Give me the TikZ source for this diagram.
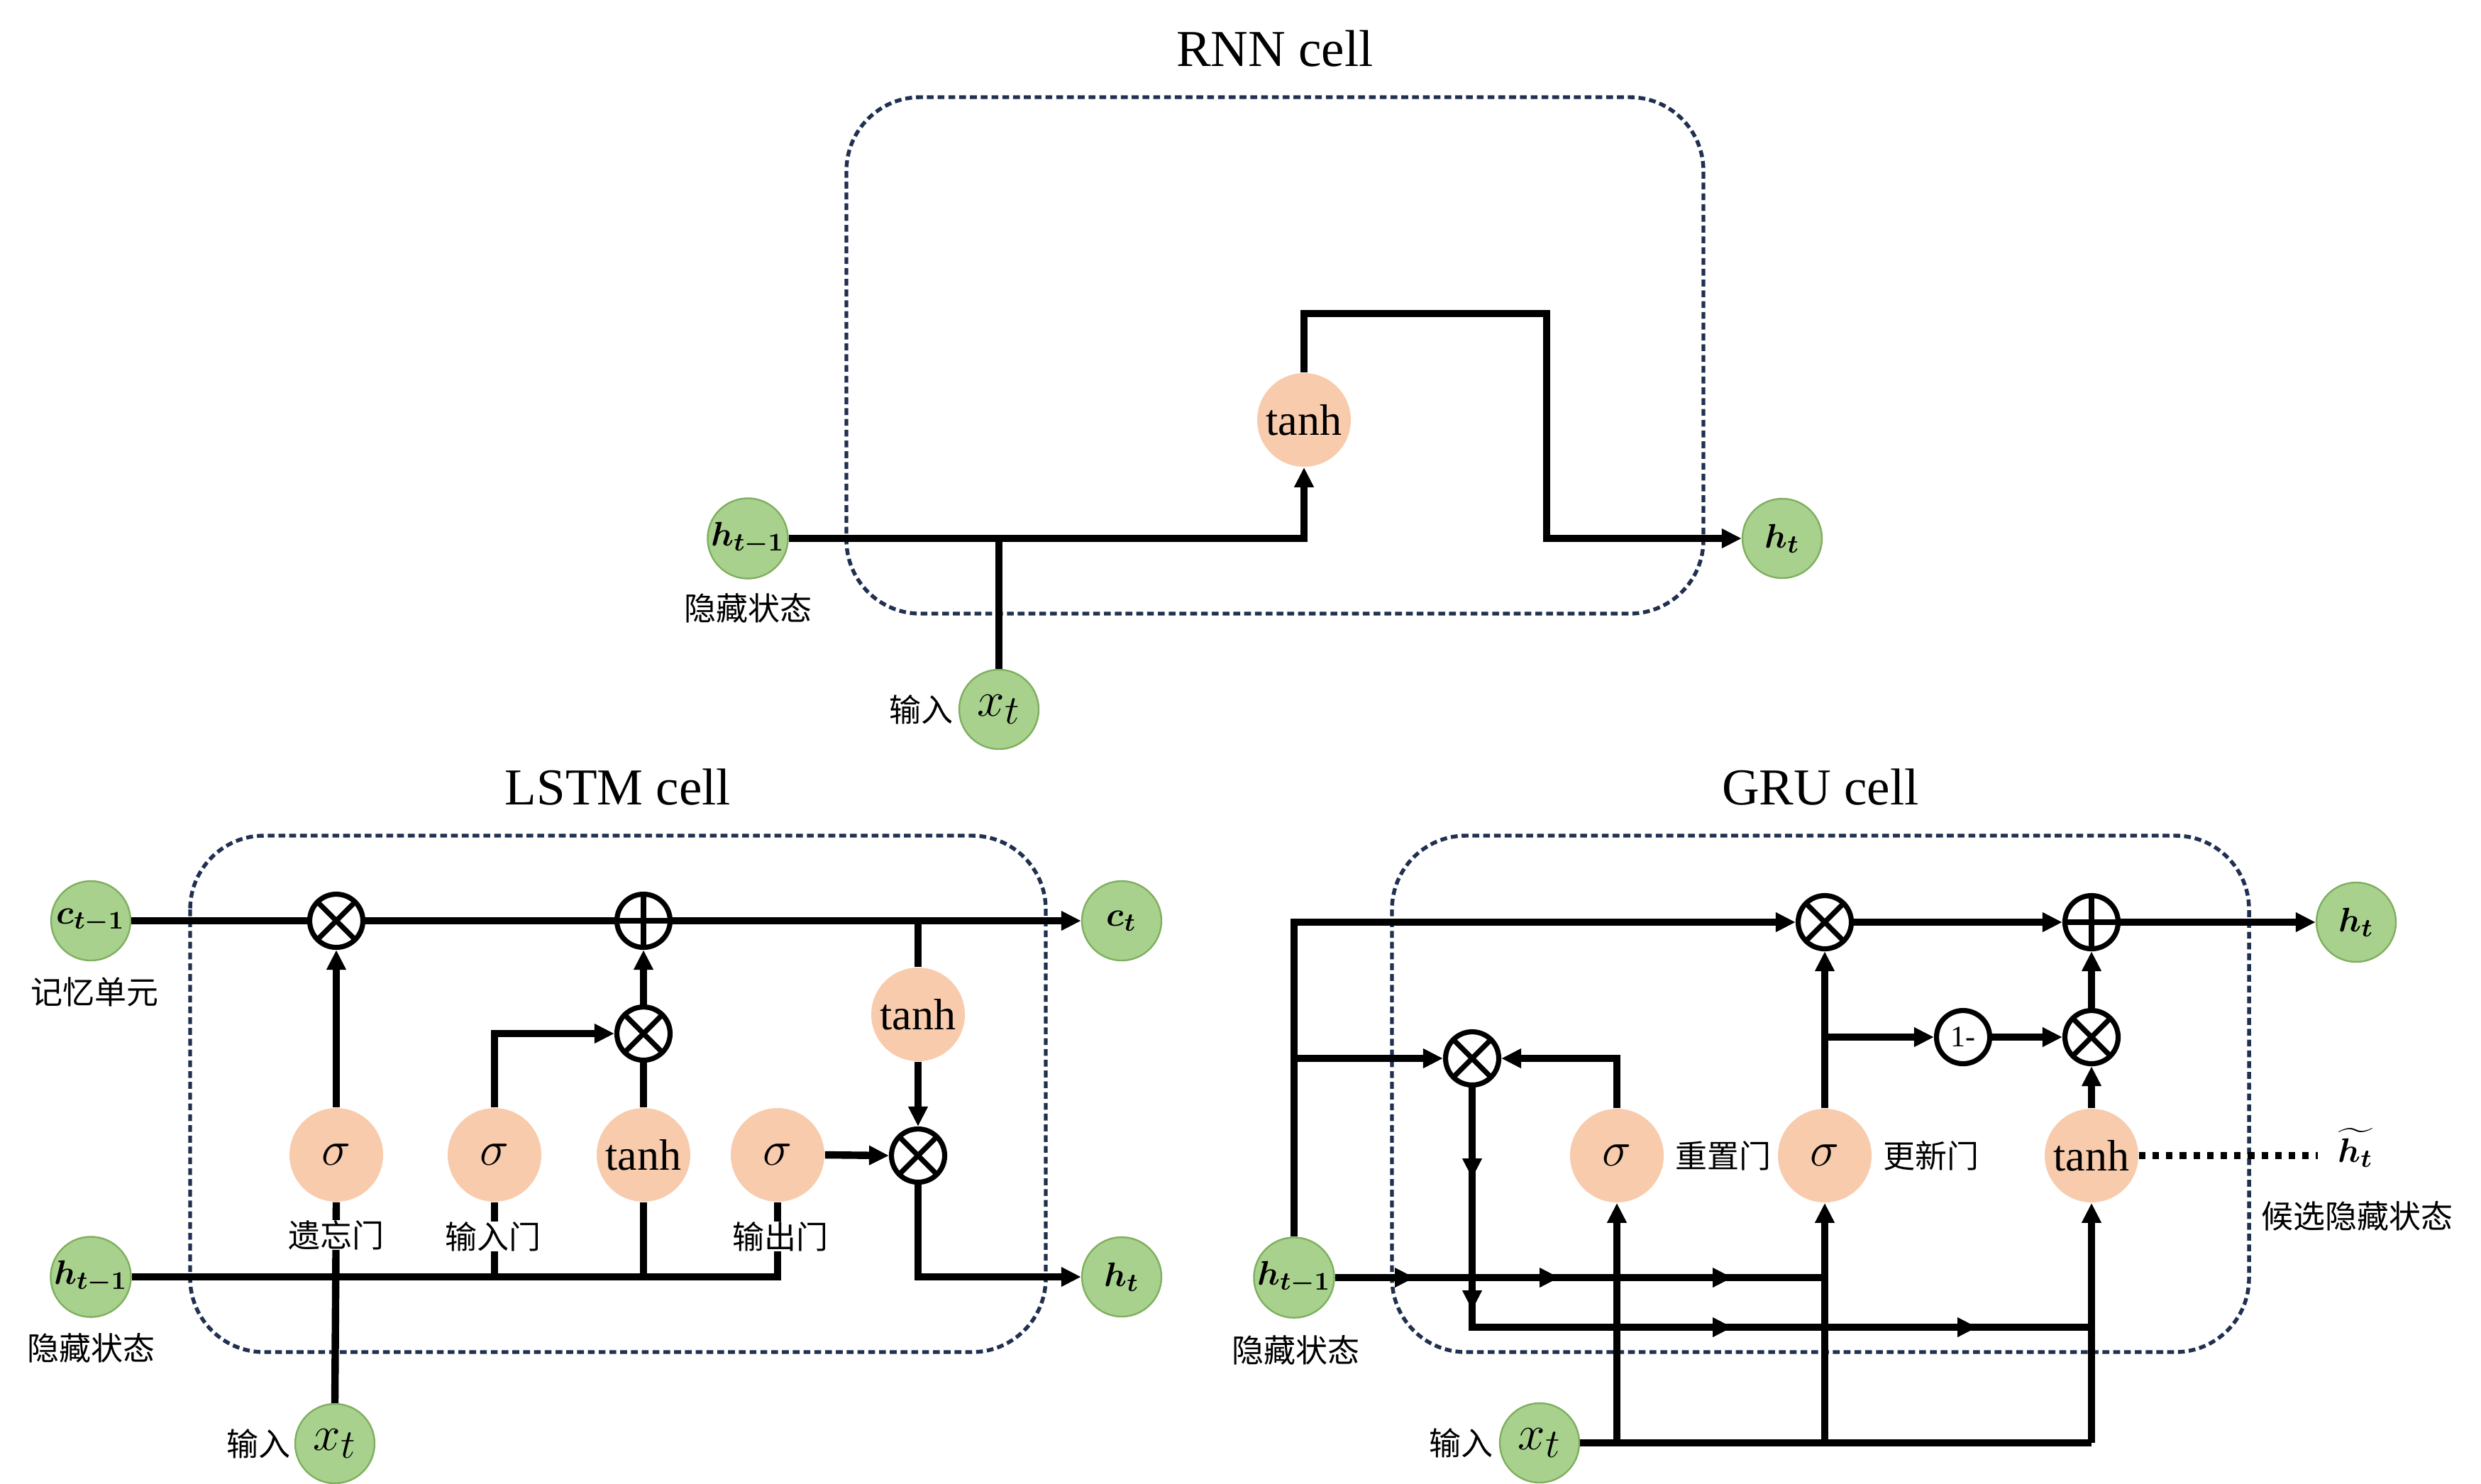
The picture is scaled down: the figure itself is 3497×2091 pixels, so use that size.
\documentclass[tikz,border=0pt]{standalone}
\usepackage{fontspec}
\usepackage{amsmath}
\setmainfont{Liberation Serif}
\newfontfamily\cjk{Noto Sans CJK SC}
\usetikzlibrary{arrows.meta}
\definecolor{gfill}{HTML}{A9D18E}
\definecolor{gline}{HTML}{7FAF5F}
\definecolor{pfill}{HTML}{F8CBAD}
\definecolor{boxc}{HTML}{203050}
\tikzset{
  conn/.style={line width=2.6pt, draw=black},
  arr/.style={conn, -{Triangle[length=7pt,width=6.5pt]}},
  io/.style={circle, fill=gfill, draw=gline, line width=0.6pt, minimum size=28pt, inner sep=0pt, font=\fontsize{13pt}{14pt}\selectfont},
  xin/.style={io, font=\fontsize{19pt}{20pt}\selectfont},
  act/.style={circle, fill=pfill, minimum size=33pt, inner sep=0pt, font=\fontsize{15.5pt}{16pt}\selectfont},
  sig/.style={act, font=\fontsize{19pt}{20pt}\selectfont},
  opbase/.style={circle, draw=black, fill=white, line width=1.8pt, minimum size=18.75pt, inner sep=0pt},
  opx/.style={opbase, path picture={\draw[line width=1.8pt] (path picture bounding box.north west) -- (path picture bounding box.south east) (path picture bounding box.north east) -- (path picture bounding box.south west);}},
  opp/.style={opbase, path picture={\draw[line width=1.8pt] (path picture bounding box.north) -- (path picture bounding box.south) (path picture bounding box.west) -- (path picture bounding box.east);}},
  onem/.style={opbase, font=\fontsize{10.5pt}{11pt}\selectfont},
  cellbox/.style={draw=boxc, line width=1.35pt, dash pattern=on 2.4pt off 1.4pt, rounded corners=26pt},
  celltitle/.style={font=\fontsize{18.25pt}{20pt}\selectfont, anchor=base, inner sep=0pt},
  lab/.style={font=\cjk\fontsize{11.25pt}{12pt}\selectfont, inner sep=0.5pt},
  labw/.style={lab, fill=white, inner sep=0pt},
  dotline/.style={line width=2.3pt, dash pattern=on 2.3pt off 2.5pt},
  txt/.style={inner sep=0pt, font=\fontsize{13pt}{14pt}\selectfont},
}
\begin{document}
\begin{tikzpicture}[x=0.25pt,y=-0.25pt]
\useasboundingbox (0,0) rectangle (3497,2091);

% ================= RNN =================
\node[celltitle] (rtitle) at (1797,93) {RNN cell};
\draw[cellbox] (1193,137) rectangle (2401,865);
\node[io] (rh) at (1054,759) {$\boldsymbol{h_{t-1}}$};
\node[lab] (rhl) at (1054,857) {隐藏状态};
\node[xin] (rx) at (1408,1000) {$x_t$};
\node[lab] (rxl) at (1298,1000) {输入};
\node[act] (rtanh) at (1838,592) {tanh};
\node[io] (rht) at (2512,759) {$\boldsymbol{h_t}$};
\coordinate (rj) at (1408,759);
\coordinate (rc1) at (1838,442);
\coordinate (rc2) at (2180,442);
\draw[arr] (rh.east) -| (rtanh.south);
\draw[conn] (rx.north) -- (rj);
\draw[arr] (rtanh.north) -- (rc1) -- (rc2) |- (rht.west);

% ================= LSTM =================
\node[celltitle] (ltitle) at (871,1134) {LSTM cell};
\draw[cellbox] (268,1178) rectangle (1474,1906);
\node[io] (lc0) at (128,1298) {$\boldsymbol{c_{t-1}}$};
\node[lab] (lc0l) at (133,1398) {记忆单元};
\node[io] (lh0) at (128,1800) {$\boldsymbol{h_{t-1}}$};
\node[lab] (lh0l) at (128,1900) {隐藏状态};
\node[xin] (lx) at (472,2035) {$x_t$};
\node[lab] (lxl) at (364,2035) {输入};
\node[io] (lct) at (1581,1298) {$\boldsymbol{c_t}$};
\node[io] (lht) at (1581,1800) {$\boldsymbol{h_t}$};
\node[opx] (lf) at (474,1298) {};
\node[opp] (lp) at (907,1298) {};
\node[opx] (li) at (907,1457) {};
\node[sig] (lsf) at (474,1628) {$\sigma$};
\node[sig] (lsi) at (697,1628) {$\sigma$};
\node[act] (lta) at (907,1628) {tanh};
\node[sig] (lso) at (1096,1628) {$\sigma$};
\node[act] (ltc) at (1294,1430) {tanh};
\node[opx] (lo) at (1294,1629) {};

\draw[conn] (lc0.east) -- (lf.west);
\draw[conn] (lf.east) -- (lp.west);
\draw[arr] (lp.east) -- (lct.west);
\draw[conn] (ltc.north) -- (ltc.north |- lp.east);
\draw[arr] (ltc.south) -- (lo.north);
\draw[arr] (lso.east) -- (lo.west);
\draw[arr] (lo.south) |- (lht.west);
\draw[arr] (lsf.north) -- (lf.south);
\draw[arr] (lsi.north) |- (li.west);
\draw[conn] (lta.north) -- (li.south);
\draw[arr] (li.north) -- (lp.south);
\draw[conn] (lh0.east) -| (lso.south);
\draw[conn] (lsi.south) -- (lsi.south |- lh0.east);
\draw[conn] (lta.south) -- (lta.south |- lh0.east);
\draw[conn] (lx.north) -- (lsf.south);
\node[labw] (lfl) at (474,1741) {遗忘门};
\node[labw] (lil) at (695,1743) {输入门};
\node[labw] (lol) at (1100,1743) {输出门};

% ================= GRU =================
\node[celltitle] (gtitle) at (2566,1134) {GRU cell};
\draw[cellbox] (1962,1178) rectangle (3170,1906);
\node[io] (gh) at (1824,1801) {$\boldsymbol{h_{t-1}}$};
\node[lab] (ghl) at (1826,1903) {隐藏状态};
\node[xin] (gx) at (2170,2034) {$x_t$};
\node[lab] (gxl) at (2059,2034) {输入};
\node[io] (ght) at (3321,1300) {$\boldsymbol{h_t}$};
\node[opx] (gm1) at (2572,1300) {};
\node[opp] (gp) at (2948,1300) {};
\node[opx] (gm2) at (2948,1462) {};
\node[onem] (g1) at (2767,1462) {1-};
\node[opx] (gr) at (2075,1492) {};
\node[sig] (gsr) at (2279,1629) {$\sigma$};
\node[sig] (gsu) at (2572,1629) {$\sigma$};
\node[act] (gta) at (2948,1629) {tanh};
\node[lab] (gsrl) at (2429,1629) {重置门};
\node[lab] (gsul) at (2722,1629) {更新门};
\node[txt] (gtil) at (3320,1618) {$\widetilde{\boldsymbol{h_t}}$};
\node[lab] (gtill) at (3322,1714) {候选隐藏状态};
\coordinate (gdot) at (3267,1629);
\coordinate (gbl) at (2948,1871);

\draw[arr] (gh.north) |- (gm1.west);
\draw[arr] (gh.north |- gr.west) -- (gr.west);
\draw[arr] (gsr.north) |- (gr.east);
\draw[arr] (gm1.east) -- (gp.west);
\draw[arr] (gp.east) -- (ght.west);
\draw[arr] (gsu.north) -- (gm1.south);
\draw[arr] (gsu.north |- g1.west) -- (g1.west);
\draw[arr] (g1.east) -- (gm2.west);
\draw[arr] (gta.north) -- (gm2.south);
\draw[arr] (gm2.north) -- (gp.south);
\draw[dotline] (gta.east) -- (gdot);
\draw[conn] (gr.south) |- (gbl);
\draw[conn] (gh.east) -- (gsu.south |- gh.east);
\draw[conn] (gx.east) -- (gta.south |- gx.east);
\draw[arr] (gsr.south |- gx.east) -- (gsr.south);
\draw[arr] (gsu.south |- gx.east) -- (gsu.south);
\draw[arr] (gta.south |- gx.east) -- (gta.south);
% mid-line arrow heads
\coordinate (ma1) at (1994,1801);
\coordinate (ma2) at (2198,1801);
\coordinate (ma3) at (2442,1801);
\coordinate (mb1) at (2442,1871);
\coordinate (mb2) at (2787,1871);
\coordinate (mv1) at (2075,1661);
\coordinate (mv2) at (2075,1847);
\foreach \m in {ma1,ma2,ma3,mb1,mb2} {\draw[arr] ([xshift=-8pt]\m) -- (\m);}
\foreach \m in {mv1,mv2} {\draw[arr] ([yshift=8pt]\m) -- (\m);}
\end{tikzpicture}
\end{document}
